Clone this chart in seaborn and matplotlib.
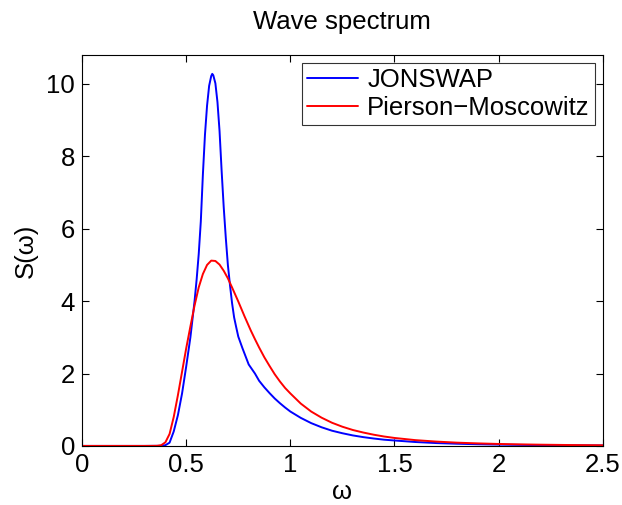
import pandas as pd
import matplotlib
matplotlib.use("Agg")
import matplotlib.pyplot as plt
import seaborn as sns

# values
omega_pm = [0.0, 0.30, 0.36, 0.38, 0.40, 0.42, 0.44, 0.46, 0.48, 0.50, 0.52, 0.54,
            0.56, 0.58, 0.60, 0.62, 0.64, 0.66, 0.68, 0.70, 0.72, 0.75, 0.78, 0.81,
            0.83, 0.85, 0.875, 0.90, 0.925, 0.95, 0.975, 1.00, 1.05, 1.10, 1.15,
            1.20, 1.25, 1.30, 1.35, 1.40, 1.45, 1.50, 1.60, 1.70, 1.80, 1.90, 2.00,
            2.10, 2.20, 2.35, 2.50]
s_pm = [0.0, 0.0, 0.003, 0.02, 0.10, 0.33, 0.80, 1.40, 2.05, 2.70, 3.30, 3.88,
        4.38, 4.75, 5.00, 5.12, 5.11, 5.01, 4.84, 4.63, 4.38, 3.99, 3.58, 3.19,
        2.95, 2.72, 2.45, 2.21, 1.98, 1.78, 1.60, 1.45, 1.17, 0.95, 0.78,
        0.64, 0.53, 0.44, 0.37, 0.31, 0.26, 0.22, 0.16, 0.12, 0.09, 0.07, 0.054,
        0.043, 0.034, 0.024, 0.018]

omega_js = [0.0, 0.30, 0.38, 0.40, 0.42, 0.44, 0.46, 0.48, 0.50, 0.52, 0.54, 0.55,
            0.56, 0.57, 0.58, 0.59, 0.60, 0.61, 0.62, 0.625, 0.63, 0.64, 0.65, 0.66,
            0.67, 0.68, 0.69, 0.70, 0.71, 0.72, 0.73, 0.74, 0.75, 0.77, 0.78, 0.80,
            0.83, 0.85, 0.875, 0.90, 0.925, 0.95, 0.975, 1.00, 1.05, 1.10, 1.15,
            1.20, 1.25, 1.30, 1.35, 1.40, 1.45, 1.50, 1.60, 1.70, 1.80, 1.90, 2.00,
            2.10, 2.20, 2.35, 2.50]
s_js = [0.0, 0.0, 0.003, 0.02, 0.09, 0.40, 0.85, 1.45, 2.20, 3.00, 4.00, 4.60,
        5.30, 6.20, 7.50, 8.60, 9.40, 9.95, 10.22, 10.28, 10.24, 10.02, 9.50, 8.70,
        7.60, 6.60, 5.75, 5.00, 4.45, 3.95, 3.55, 3.28, 3.02, 2.70, 2.55, 2.25,
        2.00, 1.80, 1.62, 1.46, 1.31, 1.18, 1.06, 0.95, 0.775, 0.63, 0.515,
        0.42, 0.35, 0.29, 0.243, 0.205, 0.172, 0.15, 0.108, 0.079, 0.06, 0.046,
        0.036, 0.028, 0.022, 0.016, 0.012]

x_ticks = [0, 0.5, 1, 1.5, 2, 2.5]
x_tick_labels = ["0", "0.5", "1", "1.5", "2", "2.5"]
y_ticks = [0, 2, 4, 6, 8, 10]

df_js = pd.DataFrame({"omega": omega_js, "S": s_js})
df_pm = pd.DataFrame({"omega": omega_pm, "S": s_pm})

sns.set_style("ticks")
plt.rcParams["font.family"] = ["Liberation Sans", "DejaVu Sans"]
plt.rcParams["xtick.direction"] = "in"
plt.rcParams["ytick.direction"] = "in"
# matlab look: everything pure black
for key in ["text.color", "axes.labelcolor", "xtick.color", "ytick.color",
            "axes.edgecolor"]:
    plt.rcParams[key] = "black"

fig = plt.figure(figsize=(6.22, 5.05), dpi=100)
ax = fig.add_axes([0.132, 0.117, 0.837, 0.774])

sns.lineplot(data=df_js, x="omega", y="S", color="#0000ff", lw=1.4,
             label="JONSWAP", ax=ax)
sns.lineplot(data=df_pm, x="omega", y="S", color="#ff0000", lw=1.4,
             label="Pierson\u2212Moscowitz", ax=ax)

ax.set_xlim(0, 2.5)
ax.set_ylim(0, 10.8)
ax.set_xticks(x_ticks)
ax.set_xticklabels(x_tick_labels)
ax.set_yticks(y_ticks)
ax.tick_params(axis="both", labelsize=18.5, length=5, width=0.8,
               top=True, right=True, pad=5, colors="black")
for sp in ax.spines.values():
    sp.set_visible(True)
    sp.set_linewidth(0.8)
    sp.set_color("black")

ax.set_title("Wave spectrum", fontsize=18.5, pad=19, color="black")
ax.set_xlabel("\u03c9", fontsize=18.5, labelpad=2, color="black")
ax.set_ylabel("S(\u03c9)", fontsize=18.5, labelpad=6, color="black")

leg = ax.legend(loc="upper right", fontsize=18.5, frameon=True, fancybox=False,
                handlelength=2.0, handletextpad=0.35, borderpad=0.2,
                labelspacing=0.15, borderaxespad=0.3)
leg.get_frame().set_edgecolor("black")
leg.get_frame().set_linewidth(0.8)
for t in leg.get_texts():
    t.set_color("black")

fig.savefig("out.png", dpi=100)
